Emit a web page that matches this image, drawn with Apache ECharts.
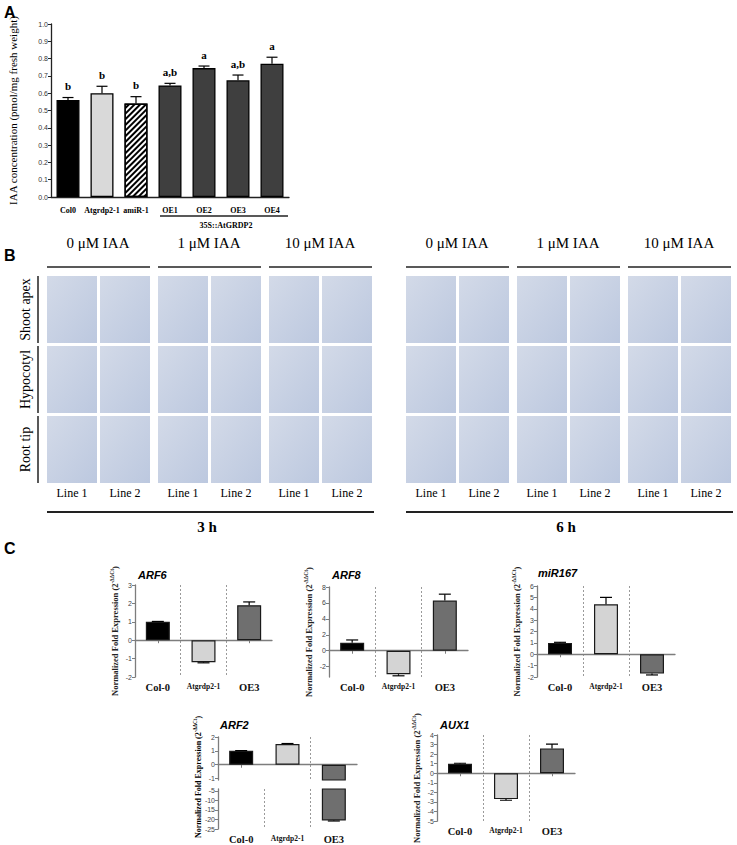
<!DOCTYPE html>
<html>
<head>
<meta charset="utf-8">
<script src="https://cdn.jsdelivr.net/npm/echarts@6/dist/echarts.min.js"></script>
<style>
  html, body { margin: 0; background: #fff; }
  #fig { width: 737px; height: 845px; }
</style>
</head>
<body>
<div id="fig"></div>
<script>
// --- Panel A data ---
var iaaCats = ['Col0', 'Atgrdp2-1', 'amiR-1', 'OE1', 'OE2', 'OE3', 'OE4'];
var iaaVals = [0.56, 0.60, 0.54, 0.645, 0.745, 0.675, 0.77];
var iaaErrs = [0.015, 0.04, 0.04, 0.012, 0.012, 0.03, 0.038];
var iaaLetters = ['b', 'b', 'b', 'a,b', 'a', 'a,b', 'a'];

// --- Panel B labels ---
var concLabels = ['0 \u03bcM IAA', '1 \u03bcM IAA', '10 \u03bcM IAA'];
var tissueLabels = ['Shoot apex', 'Hypocotyl', 'Root tip'];
var lineLabels = ['Line 1', 'Line 2'];
var timeLabels = ['3 h', '6 h'];

// --- Panel C data ---
var lines3 = ['Col-0', 'Atgrdp2-1', 'OE3'];
var arf6Vals = [1.0, -1.2, 1.9];
var arf6Errs = [0.02, 0.03, 0.18];
var arf6Ticks = [-2, -1, 0, 1, 2, 3];
var arf8Vals = [1.0, -2.95, 6.3];
var arf8Errs = [0.35, 0.2, 0.8];
var arf8Ticks = [-2, 0, 2, 4, 6, 8];
var mir167Vals = [1.0, 4.4, -1.7];
var mir167Errs = [0.05, 0.6, 0.12];
var mir167Ticks = [-2, -1, 0, 1, 2, 3, 4, 5, 6];
var arf2Vals = [1.0, 1.5, -20.5];
var arf2Errs = [0.02, 0.03, 0.3];
var arf2TicksTop = [-1, 0, 1, 2];
var arf2TicksLow = [-25, -20, -15, -10, -5];
var aux1Vals = [1.0, -2.7, 2.6];
var aux1Errs = [0.05, 0.12, 0.45];
var aux1Ticks = [-5, -4, -3, -2, -1, 0, 1, 2, 3, 4];

var serif = '"Liberation Serif", "Times New Roman", serif';
var sans = '"Liberation Sans", Arial, sans-serif';
var axisGray = '#7d7d7d';
var barColorsC = ['#000000', '#d4d4d4', '#6f6f6f'];

var chart = echarts.init(document.getElementById('fig'), null, { renderer: 'svg' });

var grids = [
  { left: 51, top: 24, width: 238, height: 173 },   // A
  { left: 135, top: 585, width: 137, height: 92 },  // ARF6
  { left: 329, top: 587, width: 139, height: 90 },  // ARF8
  { left: 537, top: 586, width: 138, height: 91 },  // miR167
  { left: 218, top: 737, width: 139, height: 43 },  // ARF2 upper
  { left: 218, top: 789, width: 139, height: 42 },  // ARF2 lower
  { left: 437, top: 735, width: 138, height: 94 }   // AUX1
];

var xAxes = [];
var yAxes = [];
var series = [];

function nameRich(size) {
  size = size || 8.5;
  return {
    n: { fontSize: size, fontWeight: 'bold', fontFamily: serif, color: '#222', lineHeight: 11 },
    s: { fontSize: size * 0.65, fontWeight: 'bold', fontFamily: serif, color: '#222', verticalAlign: 'top', lineHeight: 11 }
  };
}
var cName = '{n|Normalized Fold Expression (2}{s|-\u0394\u0394Ct}{n|)}';

function labelAxis(g, showLabels) {
  xAxes.push({
    type: 'category', gridIndex: g, data: lines3, position: 'bottom',
    axisLine: { show: false, onZero: false },
    axisTick: { show: false },
    axisLabel: {
      show: showLabels, interval: 0, margin: 5,
      formatter: function(v) { return v === 'Atgrdp2-1' ? '{s|' + v + '}' : '{b|' + v + '}'; },
      rich: {
        b: { fontSize: 10.5, fontWeight: 'bold', fontFamily: serif, color: '#111' },
        s: { fontSize: 7.5, fontWeight: 'bold', fontFamily: serif, color: '#111' }
      }
    },
    splitLine: { show: true, showMinLine: false, showMaxLine: false, lineStyle: { color: '#9a9a9a', type: [2, 2], width: 1 } }
  });
  return xAxes.length - 1;
}

function zeroAxis(g, withSplit) {
  xAxes.push({
    type: 'category', gridIndex: g, data: lines3, position: 'bottom',
    axisLine: { show: true, onZero: true, lineStyle: { color: axisGray, width: 1.3 } },
    axisTick: { show: true, alignWithLabel: true, length: 3, lineStyle: { color: axisGray } },
    axisLabel: { show: false },
    splitLine: { show: !!withSplit, showMinLine: false, showMaxLine: false, lineStyle: { color: '#9a9a9a', type: [2, 2], width: 1 } }
  });
  return xAxes.length - 1;
}

function valueAxis(g, min, max, ticks, withName) {
  yAxes.push({
    type: 'value', gridIndex: g, min: min, max: max,
    axisLine: { show: true, lineStyle: { color: axisGray, width: 1.3 } },
    axisTick: { show: true, length: 3, customValues: ticks, lineStyle: { color: axisGray } },
    axisLabel: { customValues: ticks, fontSize: 7, color: '#444', margin: 3, fontFamily: sans },
    splitLine: { show: false },
    name: withName ? cName : '',
    nameLocation: 'middle', nameGap: 15, nameRotate: 90,
    nameTextStyle: { rich: nameRich() }
  });
  return yAxes.length - 1;
}

function errSeries(xi, yi, vals, errs, capW, letters) {
  return {
    type: 'custom', xAxisIndex: xi, yAxisIndex: yi, clip: true, z: 5,
    data: vals.map(function(v, i) { return [i, v, errs[i]]; }),
    renderItem: function(params, api) {
      var i = api.value(0), v = api.value(1), e = api.value(2);
      var dir = v < 0 ? -1 : 1;
      var base = api.coord([i, v]);
      var tip = api.coord([i, v + dir * e]);
      var kids = [
        { type: 'line', shape: { x1: base[0], y1: base[1], x2: tip[0], y2: tip[1] }, style: { stroke: '#000', lineWidth: 1.2 } },
        { type: 'line', shape: { x1: tip[0] - capW / 2, y1: tip[1], x2: tip[0] + capW / 2, y2: tip[1] }, style: { stroke: '#000', lineWidth: 1.2 } }
      ];
      if (letters) {
        kids.push({
          type: 'text', x: tip[0], y: tip[1] - 6,
          style: { text: letters[i], align: 'center', verticalAlign: 'bottom', fontSize: 11, fontWeight: 'bold', fontFamily: serif, fill: '#000' }
        });
      }
      return { type: 'group', children: kids };
    }
  };
}

function barSeriesC(xi, yi, vals) {
  return {
    type: 'bar', xAxisIndex: xi, yAxisIndex: yi, barWidth: 24, clip: true,
    data: vals.map(function(v, i) {
      return { value: v, itemStyle: { color: barColorsC[i], borderColor: '#1a1a1a', borderWidth: 1.2 } };
    })
  };
}

// --- Panel A ---
xAxes.push({
  type: 'category', gridIndex: 0, data: iaaCats,
  axisLine: { lineStyle: { color: '#222', width: 1.3 } },
  axisTick: { show: false },
  axisLabel: { interval: 0, margin: 9, fontSize: 8, fontWeight: 'bold', fontFamily: serif, color: '#000' }
});
yAxes.push({
  type: 'value', gridIndex: 0, min: 0, max: 1, interval: 0.1,
  axisLine: { show: true, lineStyle: { color: '#222', width: 1.3 } },
  axisTick: { show: true, length: 3, lineStyle: { color: '#222' } },
  axisLabel: { fontSize: 7, color: '#333', margin: 3, fontFamily: sans, formatter: function(v) { return v.toFixed(1); } },
  splitLine: { show: false },
  name: 'IAA concentration (pmol/mg fresh weight)',
  nameLocation: 'middle', nameGap: 33, nameRotate: 90,
  nameTextStyle: { fontSize: 11, fontFamily: serif, color: '#000' }
});
var hatch = {
  symbol: 'rect', symbolSize: 1, dashArrayX: [1, 0], dashArrayY: [1.4, 1.8],
  rotation: -Math.PI / 4, color: '#000', backgroundColor: '#ffffff'
};
series.push({
  type: 'bar', xAxisIndex: 0, yAxisIndex: 0, barWidth: 23,
  data: iaaVals.map(function(v, i) {
    var st = { color: '#3f3f3f', borderColor: '#000', borderWidth: 1.3 };
    if (i === 0) st.color = '#000';
    if (i === 1) st.color = '#d9d9d9';
    if (i === 2) { st.color = '#ffffff'; st.decal = hatch; }
    return { value: v, itemStyle: st };
  })
});
series.push(errSeries(0, 0, iaaVals, iaaErrs, 11, iaaLetters));

// --- Panel C ---
function simpleChart(g, vals, errs, min, max, ticks) {
  labelAxis(g, true);
  var xi = zeroAxis(g, false);
  var yi = valueAxis(g, min, max, ticks, true);
  series.push(barSeriesC(xi, yi, vals));
  series.push(errSeries(xi, yi, vals, errs, 12));
}
simpleChart(1, arf6Vals, arf6Errs, -2, 3, arf6Ticks);
simpleChart(2, arf8Vals, arf8Errs, -3.3, 8, arf8Ticks);
simpleChart(3, mir167Vals, mir167Errs, -2, 6, mir167Ticks);

// ARF2 with broken axis
var arf2xTop = zeroAxis(4, true);
var arf2yTop = valueAxis(4, -1.1, 2, arf2TicksTop, false);
series.push(barSeriesC(arf2xTop, arf2yTop, arf2Vals));
series.push(errSeries(arf2xTop, arf2yTop, arf2Vals, arf2Errs, 12));
var arf2xLow = labelAxis(5, true);
var arf2yLow = valueAxis(5, -25, -4, arf2TicksLow, false);
series.push(barSeriesC(arf2xLow, arf2yLow, arf2Vals));
series.push(errSeries(arf2xLow, arf2yLow, arf2Vals, arf2Errs, 12));

simpleChart(6, aux1Vals, aux1Errs, -5, 4, aux1Ticks);

// --- graphic: panel letters, panel B layout, titles ---
var graphics = [];
function txt(x, y, text, opts) {
  var st = {
    text: text, fontSize: opts.size || 12, fontFamily: opts.family || serif,
    fontWeight: opts.weight || 'normal', fontStyle: opts.style || 'normal',
    fill: opts.color || '#000', align: opts.align || 'center', verticalAlign: opts.valign || 'middle'
  };
  if (opts.rich) st.rich = opts.rich;
  graphics.push({ type: 'text', x: x, y: y, rotation: opts.rotation || 0, style: st, silent: true });
}
function hline(x1, x2, y, w) {
  graphics.push({ type: 'line', shape: { x1: x1, y1: y, x2: x2, y2: y }, style: { stroke: '#222', lineWidth: w || 1.5 }, silent: true });
}
function vline(x, y1, y2, w) {
  graphics.push({ type: 'line', shape: { x1: x, y1: y1, x2: x, y2: y2 }, style: { stroke: '#222', lineWidth: w || 1.5 }, silent: true });
}

txt(4, 12, 'A', { size: 16, weight: 'bold', family: sans, align: 'left' });
txt(4, 255, 'B', { size: 16, weight: 'bold', family: sans, align: 'left' });
txt(4, 548, 'C', { size: 16, weight: 'bold', family: sans, align: 'left' });

// A: transgenic line bracket
hline(160, 288, 216, 1.5);
txt(226, 225, '35S::AtGRDP2', { size: 8, weight: 'bold' });

// B: photo grid
var groupX = [47, 406];
var rowY = [276, 346, 416];
var tileW = 50, tileH = 67;
groupX.forEach(function(gx, g) {
  concLabels.forEach(function(c, ci) {
    var cx = gx + ci * 111;
    hline(cx, cx + 103, 267, 1.5);
    txt(cx + 51, 243, c, { size: 15 });
    lineLabels.forEach(function(l, li) {
      var tx = cx + li * 53;
      rowY.forEach(function(ry) {
        graphics.push({
          type: 'rect', shape: { x: tx, y: ry, width: tileW, height: tileH }, silent: true,
          style: {
            fill: new echarts.graphic.LinearGradient(0, 0, 1, 1, [
              { offset: 0, color: '#d3dae8' }, { offset: 1, color: '#bcc8df' }
            ])
          }
        });
      });
      txt(tx + tileW / 2, 493, l, { size: 12 });
    });
  });
  hline(gx, gx + 327, 512, 2);
  txt(gx + 160, 527, timeLabels[g], { size: 15, weight: 'bold' });
});
tissueLabels.forEach(function(t, ti) {
  vline(38, rowY[ti], rowY[ti] + tileH, 1.5);
  txt(25, rowY[ti] + tileH / 2, t, { size: 14, rotation: Math.PI / 2 });
});

// C: gene titles
txt(138, 575, 'ARF6', { size: 11, weight: 'bold', style: 'italic', family: sans, align: 'left' });
txt(332, 575, 'ARF8', { size: 11, weight: 'bold', style: 'italic', family: sans, align: 'left' });
txt(538, 573, 'miR167', { size: 11, weight: 'bold', style: 'italic', family: sans, align: 'left' });
txt(220, 725, 'ARF2', { size: 11, weight: 'bold', style: 'italic', family: sans, align: 'left' });
txt(440, 725, 'AUX1', { size: 11, weight: 'bold', style: 'italic', family: sans, align: 'left' });
// ARF2 axis name spans both halves of the broken axis
txt(198, 777, cName, { rotation: Math.PI / 2, rich: nameRich(8) });

chart.setOption({
  animation: false,
  grid: grids,
  xAxis: xAxes,
  yAxis: yAxes,
  series: series,
  graphic: { elements: graphics }
});
window.addEventListener('resize', function() { chart.resize(); });
</script>
</body>
</html>
